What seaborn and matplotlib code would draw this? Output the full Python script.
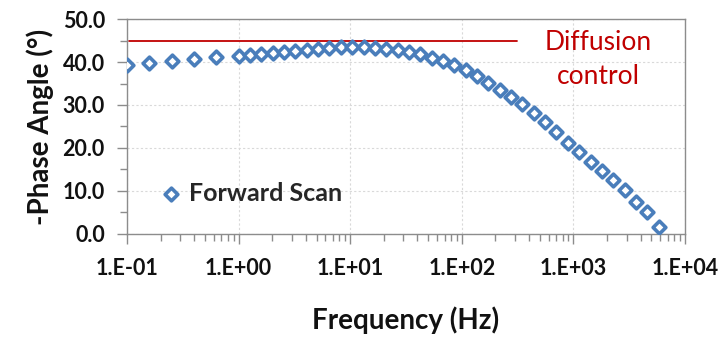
import numpy as np
import pandas as pd
import matplotlib
matplotlib.use("Agg")
import matplotlib.pyplot as plt
from matplotlib.ticker import FixedLocator, LogLocator, NullFormatter, MultipleLocator
import seaborn as sns

# Forward-scan Bode phase data
frequency_hz = [0.1, 0.158, 0.251, 0.398, 0.631,
                1.00, 1.26, 1.60, 2.02, 2.55, 3.23, 4.08, 5.16, 6.52, 8.25,
                10.4, 13.2, 16.6, 21.0, 26.6, 33.6, 42.4, 53.6, 67.8, 85.6,
                108, 137, 173, 219, 276, 349, 441, 558, 705, 891,
                1126, 1424, 1800, 2275, 2875, 3634, 4593, 5806]
phase_deg = [39.3, 39.8, 40.3, 40.7, 41.1,
             41.4, 41.6, 41.8, 42.1, 42.4, 42.6, 42.8, 43.0, 43.2, 43.4,
             43.5, 43.5, 43.3, 43.0, 42.7, 42.3, 41.8, 41.0, 40.2, 39.2,
             38.1, 36.7, 35.1, 33.6, 31.9, 30.2, 28.2, 26.1, 23.8, 21.2,
             19.0, 16.8, 14.7, 12.5, 10.3, 7.5, 5.2, 1.5]

# Diffusion-control reference level
diffusion_level = 45.0
diffusion_span = [0.105, 310]

x_tick_values = [0.1, 1, 10, 100, 1000, 10000]
x_tick_labels = ["1.E-01", "1.E+00", "1.E+01", "1.E+02", "1.E+03", "1.E+04"]
y_tick_values = [0, 10, 20, 30, 40, 50]
y_tick_labels = ["0.0", "10.0", "20.0", "30.0", "40.0", "50.0"]

df = pd.DataFrame({"Frequency (Hz)": frequency_hz, "Phase": phase_deg})

sns.set_theme(style="white")
plt.rcParams["font.family"] = ["Lato", "DejaVu Sans"]

blue = "#4a7ebb"
red = "#c00000"
gray = "#8c8c8c"
ink = "#111111"

fig = plt.figure(figsize=(7.26, 3.40), dpi=100)
ax = fig.add_axes([0.175, 0.312, 0.7685, 0.632])

sns.scatterplot(data=df, x="Frequency (Hz)", y="Phase", ax=ax, marker="D",
                s=42, facecolor="white", edgecolor=blue, linewidth=2.6,
                label="Forward Scan", zorder=3)

ax.set_xscale("log")
ax.set_xlim(0.1, 10000)
ax.set_ylim(0, 50)

ax.plot(diffusion_span, [diffusion_level, diffusion_level], color=red, lw=1.3, zorder=2)
ax.text(0.844, 0.81, "Diffusion\ncontrol", transform=ax.transAxes, color=red,
        fontsize=19, ha="center", va="center", linespacing=1.45)

ax.xaxis.set_major_locator(FixedLocator(x_tick_values))
ax.set_xticklabels(x_tick_labels)
ax.xaxis.set_minor_locator(LogLocator(base=10, subs=np.arange(2, 10)))
ax.xaxis.set_minor_formatter(NullFormatter())
ax.yaxis.set_major_locator(FixedLocator(y_tick_values))
ax.set_yticklabels(y_tick_labels)
ax.yaxis.set_minor_locator(MultipleLocator(5))

ax.grid(True, which="major", color="#d9d9d9", linestyle=(0, (2, 2)), linewidth=0.8)
ax.set_axisbelow(True)

for s in ax.spines.values():
    s.set_color(gray)
    s.set_linewidth(1.0)

ax.tick_params(axis="both", which="major", direction="out", length=7, width=1,
               color=gray, labelsize=15.5)
ax.tick_params(axis="x", which="major", pad=10)
ax.tick_params(axis="y", which="major", pad=9)
ax.tick_params(axis="both", which="minor", direction="out", length=5, width=1,
               color=gray)
ax.tick_params(axis="x", which="both", bottom=True)
ax.tick_params(axis="y", which="both", left=True)
for lab in ax.get_xticklabels() + ax.get_yticklabels():
    lab.set_fontweight("bold")
    lab.set_color(ink)

ax.set_xlabel("Frequency (Hz)", fontsize=20, fontweight="bold", labelpad=20, color=ink)
ax.set_ylabel("-Phase Angle (°)", fontsize=20, fontweight="bold", labelpad=6, color=ink)

leg = ax.legend(loc="center left", bbox_to_anchor=(0.061, 0.19), frameon=False,
                handlelength=0.8, handletextpad=0.3, borderaxespad=0, borderpad=0,
                prop={"size": 18, "weight": "bold"}, markerscale=1.0)

fig.savefig("out.png", dpi=100)
